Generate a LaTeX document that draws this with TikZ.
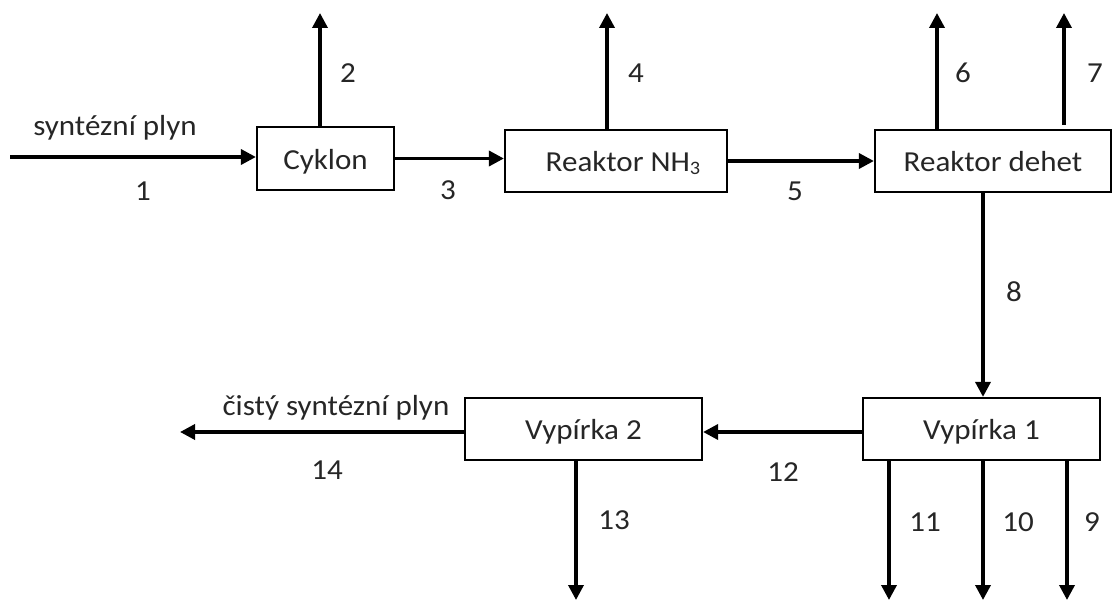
\documentclass[tikz,border=0pt]{standalone}
\usepackage{fontspec}
\setmainfont[FakeStretch=1.07]{Carlito}
\usetikzlibrary{arrows.meta}
\begin{document}
\begin{tikzpicture}[x=1pt,y=-1pt,
  every node/.style={font=\fontsize{29}{33}\selectfont, text=black!85, inner sep=0pt},
  proc/.style={draw=black, line width=2.2pt, minimum width=#1, minimum height=62pt, text height=22pt, text depth=0pt},
  flow/.style={line width=3.5pt, -{Triangle[length=15pt,width=15pt]}}]
\useasboundingbox (0,0) rectangle (1112,601);

% process boxes
\node[proc=137pt, minimum height=63pt] (cyk) at (325.5,158.5) {Cyklon};
\node[proc=222pt] (nh3) at (616,161) {\hspace{14pt}Reaktor NH{\fontsize{19}{19}\selectfont\raisebox{-3pt}{3}}};
\node[proc=236pt] (deh) at (993,161) {Reaktor dehet};
\node[proc=237pt] (v1) at (981.5,429) {Vypírka 1};
\node[proc=237pt] (v2) at (583.5,429) {Vypírka 2};

% free ends
\coordinate (s1) at (10,157);
\coordinate (e2) at (320,13);
\coordinate (e4) at (607,13);
\coordinate (e6) at (937,13);
\coordinate (e7) at (1064,13);
\coordinate (c8) at (983,300);
\coordinate (r12) at (0,432);
\coordinate (e14) at (180,432);
\coordinate (e13) at (576,600);
\coordinate (e11) at (889,600);
\coordinate (e10) at (983,600);
\coordinate (e9) at (1067,600);

% streams
\draw[flow] (s1) -- (s1 -| cyk.west);
\draw[flow] (e2 |- cyk.north) -- (e2);
\draw[flow] (cyk.east) -- (cyk.east -| nh3.west);
\draw[flow] (e4 |- nh3.north) -- (e4);
\draw[flow] (nh3.east) -- (nh3.east -| deh.west);
\draw[flow] (e6 |- deh.north) -- (e6);
\path (e7 |- deh.north) ++(0,-4) coordinate (b7);
\draw[flow] (b7) -- (e7);
\draw[flow] (c8 |- deh.south) -- (c8 |- v1.north);
\draw[flow] (r12 -| v1.west) -- (r12 -| v2.east);
\draw[flow] (e14 -| v2.west) -- (e14);
\draw[flow] (e13 |- v2.south) -- (e13);
\draw[flow] (e11 |- v1.south) -- (e11);
\draw[flow] (e10 |- v1.south) -- (e10);
\draw[flow] (e9 |- v1.south) -- (e9);

% labels
\node[anchor=base] (t1) at (115,136) {syntézní plyn};
\node[anchor=base] (t14) at (336,416) {čistý syntézní plyn};
\node (n1) at (143,191) {1};
\node (n2) at (348,73) {2};
\node (n3) at (448,190) {3};
\node (n4) at (636,73) {4};
\node (n5) at (795,191) {5};
\node (n6) at (963,73) {6};
\node (n7) at (1095,73) {7};
\node (n8) at (1014,292) {8};
\node (n9) at (1092,522) {9};
\node (n10) at (1018,522) {10};
\node (n11) at (925,522) {11};
\node (n12) at (783,472) {12};
\node (n13) at (614,520) {13};
\node (n14) at (327,470) {14};
\end{tikzpicture}
\end{document}
